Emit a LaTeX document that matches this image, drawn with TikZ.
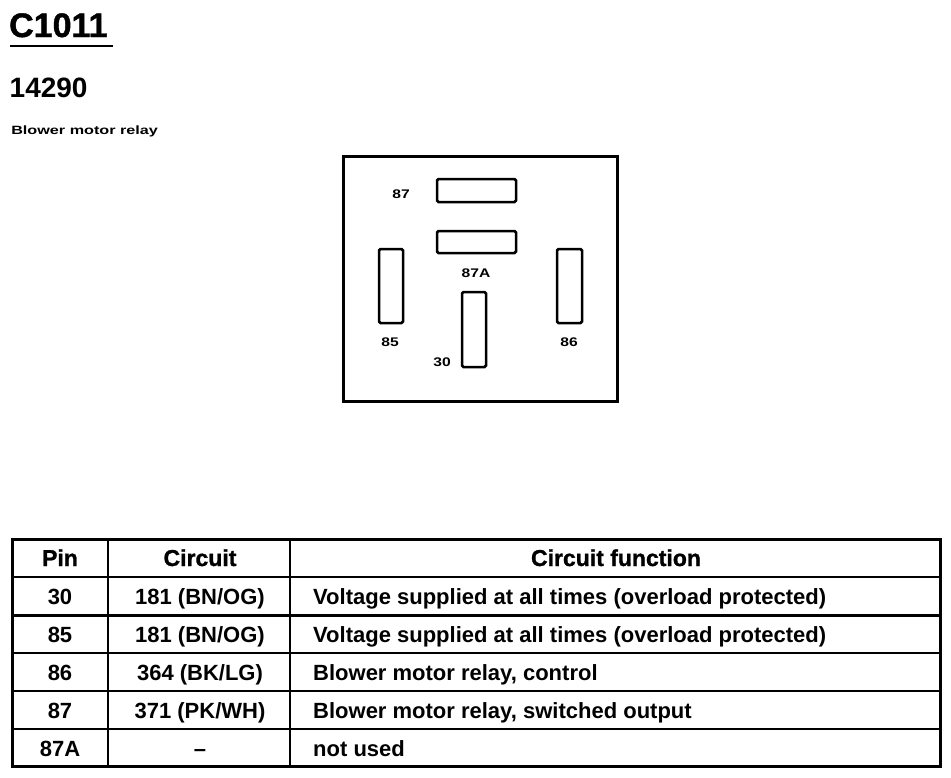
\documentclass[tikz,border=0pt]{standalone}
\usepackage{fontspec}
\setmainfont{Liberation Sans}
\newfontfamily\lsbold{Liberation Sans Bold}
\newfontfamily\lsheavy[FakeBold=1.2]{Liberation Sans Bold}
\begin{document}
\begin{tikzpicture}[x=1pt,y=-1pt,
  txt/.style={inner sep=0pt, font=\lsbold\fontsize{22}{26}\selectfont},
  hdr/.style={inner sep=0pt, font=\lsheavy\fontsize{23}{26}\selectfont},
  small/.style={inner sep=0pt, font=\lsbold\fontsize{12}{14}\selectfont, xscale=1.35},
  pinlbl/.style={inner sep=0pt, font=\lsbold\fontsize{12.5}{14}\selectfont, xscale=1.25},
  pinbox/.style={draw, line width=2.5pt, rounded corners=1.5pt, inner sep=0pt, outer sep=0pt},
  hpin/.style={pinbox, minimum width=79pt, minimum height=23pt},
  vpin/.style={pinbox, minimum width=24pt, minimum height=74pt},
  thick line/.style={line width=3pt},
  thin line/.style={line width=2pt}]
\useasboundingbox (0,0) rectangle (951,777);
% titles
\node[inner sep=0pt, anchor=base west, font=\lsheavy\fontsize{34}{40}\selectfont] (title) at (9,37) {C1011};
\draw[line width=2.5pt] (10,46) coordinate (ulA) -- (113,46) coordinate (ulB);
\node[inner sep=0pt, anchor=base west, font=\lsbold\fontsize{28}{32}\selectfont] (part) at (9.5,97) {14290};
\node[small, anchor=base west] (desc) at (11,134) {Blower motor relay};
% relay outline
\node[draw, line width=3pt, inner sep=0pt, minimum width=274pt, minimum height=245pt] (relay) at (480,278.5) {};
\node[hpin] (p87) at (476.5,190.5) {};
\node[hpin, minimum height=22pt] (p87A) at (476.5,242) {};
\node[vpin] (p85) at (391,286) {};
\node[vpin, minimum width=25pt] (p86) at (569.5,286) {};
\node[vpin, minimum height=75pt] (p30) at (474,329.5) {};
\node[pinlbl] (l87) at (401,194.5) {87};
\node[pinlbl] (l87A) at (476,273) {87A};
\node[pinlbl] (l85) at (390,342) {85};
\node[pinlbl] (l86) at (569,342) {86};
\node[pinlbl] (l30) at (442,362) {30};
% table
\draw[thick line] (12,539) rectangle (940,766);
\draw[thin line] (108,539) -- (108,766);
\draw[thin line] (290,539) -- (290,766);
\draw[thin line] (12,577) -- (940,577);
\draw[thick line] (12,615) -- (940,615);
\draw[thin line] (12,653) -- (940,653);
\draw[thin line] (12,691) -- (940,691);
\draw[thin line] (12,729) -- (940,729);
% header
\node[hdr, anchor=base] (hpinc) at (60,566) {Pin};
\node[hdr, anchor=base] (hcir) at (200,566) {Circuit};
\node[hdr, anchor=base] (hfun) at (616,566) {Circuit function};
% rows
\node[txt, anchor=base] (r1a) at (60,604) {30};
\node[txt, anchor=base] (r1b) at (200,604) {181 (BN/OG)};
\node[txt, anchor=base west] (r1c) at (313,604) {Voltage supplied at all times (overload protected)};
\node[txt, anchor=base] (r2a) at (60,642) {85};
\node[txt, anchor=base] (r2b) at (200,642) {181 (BN/OG)};
\node[txt, anchor=base west] (r2c) at (313,642) {Voltage supplied at all times (overload protected)};
\node[txt, anchor=base] (r3a) at (60,680) {86};
\node[txt, anchor=base] (r3b) at (200,680) {364 (BK/LG)};
\node[txt, anchor=base west] (r3c) at (313,680) {Blower motor relay, control};
\node[txt, anchor=base] (r4a) at (60,718) {87};
\node[txt, anchor=base] (r4b) at (200,718) {371 (PK/WH)};
\node[txt, anchor=base west] (r4c) at (313,718) {Blower motor relay, switched output};
\node[txt, anchor=base] (r5a) at (60,756) {87A};
\node[txt, anchor=base] (r5b) at (200,756) {–};
\node[txt, anchor=base west] (r5c) at (313,756) {not used};
\end{tikzpicture}
\end{document}
